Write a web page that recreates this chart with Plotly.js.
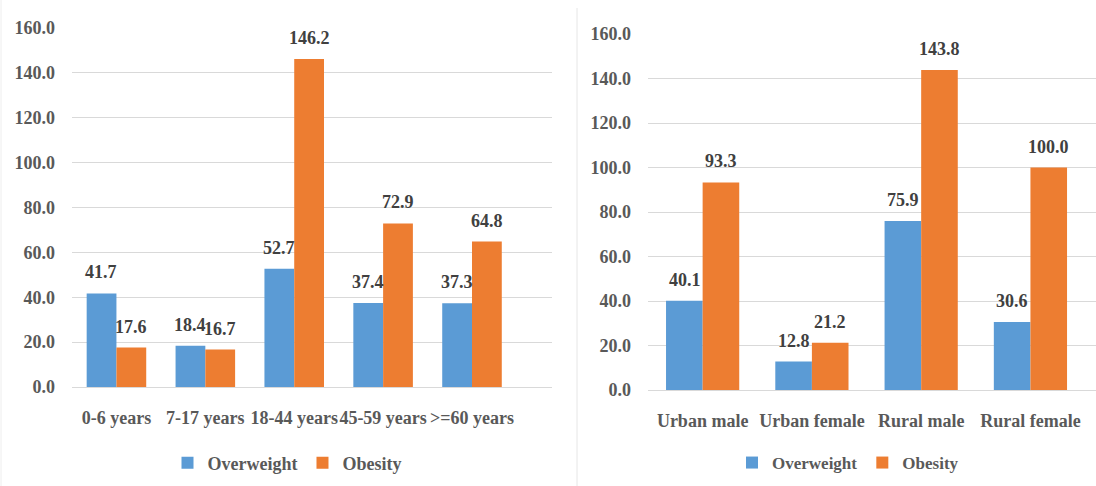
<!DOCTYPE html>
<html>
<head>
<meta charset="utf-8">
<script src="https://cdn.plot.ly/plotly-3.0.1.min.js"></script>
<style>html,body{margin:0;padding:0;background:#fff;}#chart{width:1096px;height:486px;}</style>
</head>
<body>
<div id="chart"></div>
<script>
var ageGroups = ["0-6 years", "7-17 years", "18-44 years", "45-59 years", ">=60 years"];
var ageOverweight = [41.7, 18.4, 52.7, 37.4, 37.3];
var ageObesity = [17.6, 16.7, 146.2, 72.9, 64.8];

var areaGroups = ["Urban male", "Urban female", "Rural male", "Rural female"];
var areaOverweight = [40.1, 12.8, 75.9, 30.6];
var areaObesity = [93.3, 21.2, 143.8, 100.0];

var seriesNames = ["Overweight", "Obesity"];
var yTicks = [0, 20, 40, 60, 80, 100, 120, 140, 160];

var BLUE = "#5B9BD5", ORANGE = "#ED7D31";
var FONT = "Liberation Serif, Times New Roman, serif";
var GRAY = "#595959";

function bar(x, y, name, color, xa, ya, leg, show) {
  return {type: "bar", x: x, y: y, name: name, xaxis: xa, yaxis: ya,
    marker: {color: color}, legend: leg, showlegend: show, hoverinfo: "x+y"};
}

var data = [
  bar(ageGroups, ageOverweight, seriesNames[0], BLUE, "x", "y", "legend", true),
  bar(ageGroups, ageObesity, seriesNames[1], ORANGE, "x", "y", "legend", true),
  bar(areaGroups, areaOverweight, seriesNames[0], BLUE, "x2", "y2", "legend2", true),
  bar(areaGroups, areaObesity, seriesNames[1], ORANGE, "x2", "y2", "legend2", true)
];

var annotations = [];
function addLabels(cats, vals, xref, yref, shift) {
  cats.forEach(function(c, i) {
    annotations.push({x: c, y: vals[i], xref: xref, yref: yref, text: vals[i].toFixed(1),
      showarrow: false, yanchor: "bottom", xshift: shift, yshift: 9,
      font: {family: FONT, size: 18, color: "#404040", weight: "bold"}});
  });
}
addLabels(ageGroups, ageOverweight, "x", "y", -15);
addLabels(ageGroups, ageObesity, "x", "y", 15);
addLabels(areaGroups, areaOverweight, "x2", "y2", -18);
addLabels(areaGroups, areaObesity, "x2", "y2", 18);

var tickFont = {family: FONT, size: 18, color: GRAY, weight: "bold"};
function yAxis(domain, anchor) {
  return {domain: domain, anchor: anchor, range: [0, 160], tickvals: yTicks,
    ticktext: yTicks.map(function(v){return v.toFixed(1);}),
    showgrid: true, gridcolor: "#d9d9d9", gridwidth: 1, zeroline: false,
    showline: false, ticks: "", tickfont: tickFont, ticklabelstandoff: 16, fixedrange: true};
}
function xAxis(domain, anchor, range) {
  return {domain: domain, anchor: anchor, type: "category", range: range,
    showline: true, linecolor: "#d9d9d9", linewidth: 1, ticks: "", showgrid: false,
    tickangle: 0, tickfont: tickFont, ticklabelstandoff: 14, fixedrange: true};
}

var layout = {
  width: 1096, height: 486,
  margin: {l: 0, r: 0, t: 0, b: 0},
  paper_bgcolor: "#ffffff", plot_bgcolor: "rgba(0,0,0,0)",
  barmode: "group", bargap: 0.33, bargroupgap: 0,
  font: {family: FONT, color: GRAY},
  xaxis: xAxis([72/1096, 552/1096], "y", [-0.5, 4.9]),
  yaxis: yAxis([99/486, 458/486], "x"),
  xaxis2: xAxis([648/1096, 1], "y2", [-0.5, 3.6]),
  yaxis2: yAxis([96/486, 452/486], "x2"),
  legend: {orientation: "h", x: 287/1096, xanchor: "center", y: 23/486, yanchor: "middle",
    font: {family: FONT, size: 18, color: GRAY, weight: "bold"}, itemwidth: 30, bgcolor: "rgba(0,0,0,0)"},
  legend2: {orientation: "h", x: 848/1096, xanchor: "center", y: 23/486, yanchor: "middle",
    font: {family: FONT, size: 17, color: GRAY, weight: "bold"}, itemwidth: 30, bgcolor: "rgba(0,0,0,0)"},
  annotations: annotations,
  shapes: [
    {type: "line", xref: "paper", yref: "paper", x0: 577/1096, x1: 577/1096, y0: 0, y1: 478/486,
      line: {color: "#e6e6e6", width: 1}},
    {type: "line", xref: "paper", yref: "paper", x0: 1/1096, x1: 1/1096, y0: 0, y1: 1,
      line: {color: "#eeeeee", width: 1}}
  ]
};

Plotly.newPlot("chart", data, layout, {displayModeBar: false, staticPlot: true});
</script>
</body>
</html>
